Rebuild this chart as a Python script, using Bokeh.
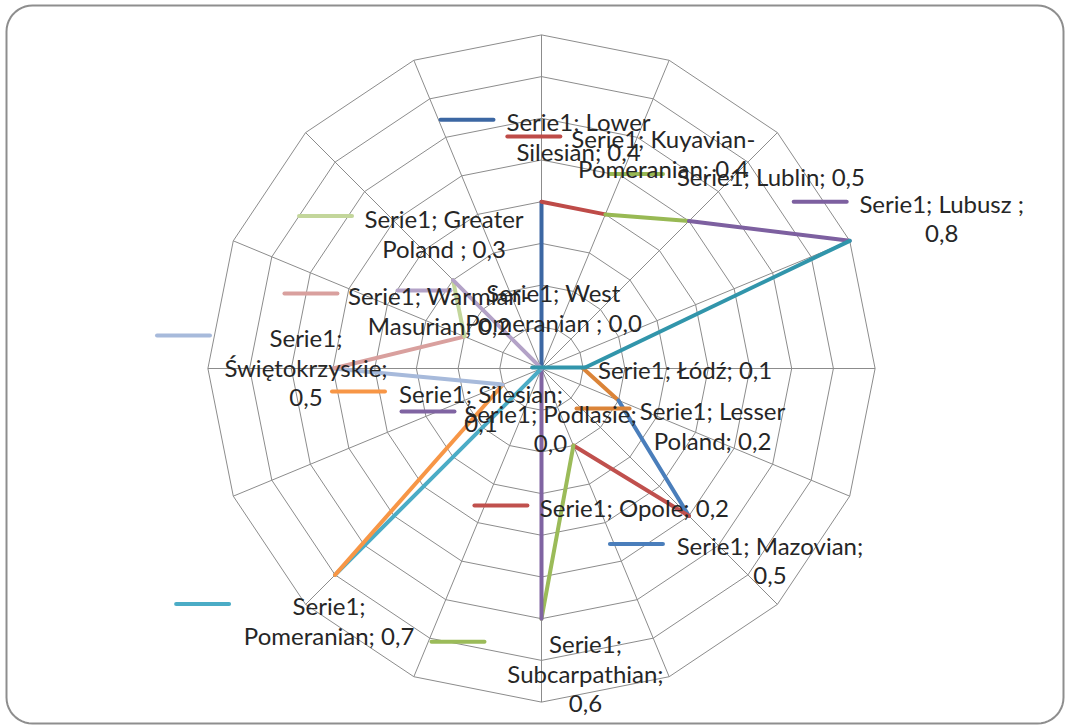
import re
import numpy as np
from bokeh.plotting import figure
from bokeh.models import Range1d, ColumnDataSource
from bokeh.embed import file_html
from bokeh.resources import INLINE
from bokeh.core.properties import value

# ---------------- data ----------------
series_name = "Serie1"
regions = ["Lower Silesian", "Kuyavian-Pomeranian", "Lublin", "Lubusz ", "Łódź",
           "Lesser Poland", "Mazovian", "Opole", "Subcarpathian", "Podlasie",
           "Pomeranian", "Silesian", "Świętokrzyskie", "Warmian-Masurian",
           "Greater Poland ", "West Pomeranian "]
values = [0.4, 0.4, 0.5, 0.8, 0.1, 0.2, 0.5, 0.2, 0.6, 0.0, 0.7, 0.1, 0.5, 0.2, 0.3, 0.0]
ring_ticks = [0.1, 0.2, 0.3, 0.4, 0.5, 0.6, 0.7, 0.8]

# ---------------- styles / layout ----------------
point_colors = ["#3C67A3", "#BE4B48", "#98B954", "#7D60A0", "#3195AB", "#DB8438",
                "#4A7EBB", "#C0504D", "#9BBB59", "#8064A2", "#4BACC6", "#F79646",
                "#A7BADB", "#D9A09E", "#C3D69B", "#B3A2C7"]
# words per wrapped line of every data label
label_wrap = [[2, 2], [2, 2], [3], [3, 1], [3], [2, 2], [2, 1], [3], [1, 1, 1],
              [2, 1], [1, 2], [2, 1], [1, 1, 1], [2, 2], [2, 3], [2, 3]]
# label box offset from its point (px right, px down) and box half width
label_off = [(37, -80), (58, -76), (82, -45), (92, -37), (102, 1), (94, 10),
             (81, 30), (61, 62), (44, 25), (9, 45), (-6, 31), (-22, 9),
             (-27, -31), (-25, -41), (-9, -62), (12, -76)]
label_hw = [72, 90, 95, 82, 87, 70, 94, 94, 88, 83, 87, 83, 83, 89, 79, 90]
LINE_H = 30
KEY_LEN, KEY_GAP = 53, 13

W, H = 1065, 726
CX, CY, R = 541, 358, 417.0
FONT = "Lato"

p = figure(width=W, height=H, x_range=Range1d(0, W), y_range=Range1d(0, H),
           output_backend="svg", toolbar_location=None, min_border=0,
           x_axis_type=None, y_axis_type=None)
p.grid.visible = False
p.outline_line_color = None
p.background_fill_color = "white"
p.border_fill_color = "white"

# rounded chart border
def rounded_rect(x0, y0, x1, y1, r, n=12):
    xs, ys = [], []
    corners = [(x1 - r, y1 - r, 0, 90), (x0 + r, y1 - r, 90, 180),
               (x0 + r, y0 + r, 180, 270), (x1 - r, y0 + r, 270, 360)]
    for cx, cy, a0, a1 in corners:
        for a in np.linspace(np.radians(a0), np.radians(a1), n):
            xs.append(cx + r * np.cos(a))
            ys.append(cy + r * np.sin(a))
    xs.append(xs[0]); ys.append(ys[0])
    return xs, ys

bx, by = rounded_rect(6, 3, 1063, 721, 26)
p.line(bx, by, line_color="#8E8E8E", line_width=2)

n = len(values)
theta = np.arange(n) * 2 * np.pi / n
sin_t, cos_t = np.sin(theta), np.cos(theta)

# grid rings
ring_xs, ring_ys = [], []
for t in ring_ticks:
    ring_xs.append(list(CX + R * t * np.append(sin_t, sin_t[0])))
    ring_ys.append(list(CY + R * t * np.append(cos_t, cos_t[0])))
p.multi_line(ring_xs, ring_ys, line_color="#8C8C8C", line_width=1)
# spokes
rmax = max(ring_ticks)
spoke_xs = [[CX, CX + R * rmax * s] for s in sin_t]
spoke_ys = [[CY, CY + R * rmax * c] for c in cos_t]
p.multi_line(spoke_xs, spoke_ys, line_color="#8C8C8C", line_width=1)

# data points
vals = np.array(values)
px = CX + R * vals * sin_t
py = CY + R * vals * cos_t

# segments coloured by point (segment ends at point i)
for i in range(n):
    j = (i - 1) % n
    p.line([px[j], px[i]], [py[j], py[i]], line_color=point_colors[i],
           line_width=4, line_cap="round", line_join="round")

# data labels
def tokens(s):
    out = []
    for w in s.split(" "):
        out.extend(t for t in re.split(r"(?<=-)", w) if t)
    return out

def join(toks):
    s = ""
    for t in toks:
        if s and not s.endswith("-"):
            s += " "
        s += t
    return s

tx, ty, tt = [], [], []
kx, ky = [], []
for i in range(n):
    txt = f"{series_name}; {regions[i]}; {values[i]:.1f}".replace(".", ",")
    toks = tokens(txt)
    ox, oy = label_off[i]
    bxc = px[i] + ox
    y1 = py[i] - oy
    k = 0
    for li, cnt in enumerate(label_wrap[i]):
        tx.append(bxc)
        ty.append(y1 - li * LINE_H)
        tt.append(join(toks[k:k + cnt]))
        k += cnt
    left = bxc - label_hw[i]
    kx.append([left - KEY_GAP - KEY_LEN, left - KEY_GAP])
    ky.append([y1 + 2, y1 + 2])

p.multi_line(kx, ky, line_color=point_colors, line_width=4, line_cap="round")
src = ColumnDataSource(dict(x=tx, y=ty, t=tt))
p.text("x", "y", text="t", source=src, text_font=value(FONT),
       text_font_size="24px", text_color="#262626", text_align="center",
       text_baseline="middle")

open("out.html", "w").write(file_html(p, INLINE))
